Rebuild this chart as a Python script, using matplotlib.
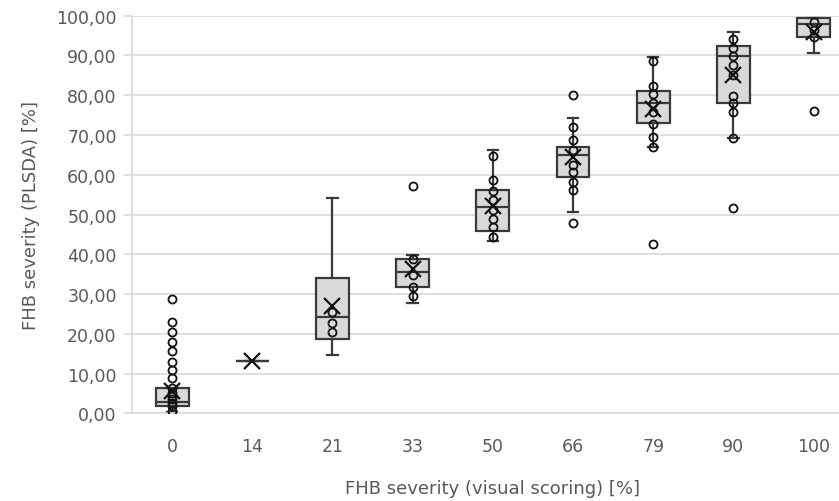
import matplotlib.pyplot as plt

# categories on the x axis (visual scoring, %)
categories = ["0", "14", "21", "33", "50", "66", "79", "90", "100"]

# box statistics (PLSDA severity, %)
q1 = [1.9, 13.2, 18.7, 31.7, 45.8, 59.5, 73.0, 78.0, 94.6]
medians = [2.9, 13.2, 24.3, 35.5, 51.8, 65.0, 78.0, 89.8, 97.9]
q3 = [6.4, 13.2, 34.0, 38.9, 56.2, 67.1, 81.1, 92.5, 99.3]
whis_lo = [0.3, 13.2, 14.7, 27.7, 43.3, 50.6, 67.1, 69.3, 90.5]
whis_hi = [6.4, 13.2, 54.1, 39.9, 66.3, 74.3, 89.5, 95.8, 99.4]
means = [5.7, 13.2, 27.1, 36.3, 52.2, 64.4, 76.5, 85.1, 95.8]

# individual points (inner points and outliers)
points = [
    [28.7, 22.9, 20.5, 17.9, 15.7, 13.0, 11.0, 8.8, 6.4, 5.0, 4.4, 3.5, 2.5, 1.8, 0.65],
    [],
    [25.6, 22.7, 20.4],
    [57.2, 38.9, 34.7, 31.7, 29.6],
    [64.6, 58.7, 56.0, 53.6, 51.2, 48.9, 46.8, 44.3],
    [80.1, 71.9, 68.7, 66.3, 62.5, 60.6, 58.2, 56.2, 47.9],
    [88.7, 82.4, 80.3, 78.0, 75.7, 72.8, 69.6, 67.1, 42.6],
    [94.1, 92.0, 89.8, 87.7, 85.1, 79.9, 78.0, 75.9, 69.3, 51.6],
    [98.5, 96.5, 94.6, 76.1],
]

grid_col = "#d9d9d9"
text_col = "#595959"
edge_col = "#3a3a3a"

fig = plt.figure(figsize=(8.39, 5.02), dpi=100)
ax = fig.add_axes([0.1573, 0.1747, 0.8602, 0.792])

stats = []
for i in range(len(categories)):
    stats.append({
        "q1": q1[i], "med": medians[i], "q3": q3[i],
        "whislo": whis_lo[i], "whishi": whis_hi[i],
        "mean": means[i], "fliers": [],
    })

pos = list(range(len(categories)))
ax.bxp(stats, positions=pos, widths=0.41, patch_artist=True,
       showmeans=True, showfliers=False,
       boxprops=dict(facecolor="#d9d9d9", edgecolor=edge_col, linewidth=1.6),
       medianprops=dict(color=edge_col, linewidth=1.6),
       whiskerprops=dict(color=edge_col, linewidth=1.6),
       capprops=dict(color=edge_col, linewidth=1.6),
       capwidths=0.13,
       meanprops=dict(marker="x", markeredgecolor="#111111", markersize=11,
                      markeredgewidth=1.6))

for i, pts in enumerate(points):
    ax.plot([pos[i]] * len(pts), pts, linestyle="none", marker="o",
            markersize=5.8, markerfacecolor="none", markeredgecolor="#111111",
            markeredgewidth=1.3, zorder=4)

ax.set_xlim(-0.5, len(categories) - 0.5)
ax.set_ylim(0, 100)
ax.set_yticks(range(0, 101, 10))
ax.set_yticklabels([f"{v:.2f}".replace(".", ",") for v in range(0, 101, 10)])
ax.set_xticks(pos)
ax.set_xticklabels(categories)

ax.yaxis.grid(True, color=grid_col, linewidth=1.2)
ax.set_axisbelow(True)
for s in ["top", "right"]:
    ax.spines[s].set_visible(False)
ax.spines["left"].set_color(grid_col)
ax.spines["bottom"].set_color(grid_col)
ax.spines["left"].set_linewidth(1.2)
ax.spines["bottom"].set_linewidth(1.2)

ax.tick_params(axis="y", length=6, width=1.2, color=grid_col, pad=5,
               labelsize=12.5, labelcolor=text_col)
ax.tick_params(axis="x", length=0, pad=17, labelsize=12.5, labelcolor=text_col)

ax.set_xlabel("FHB severity (visual scoring) [%]", fontsize=13, color=text_col,
              labelpad=17)
ax.set_ylabel("FHB severity (PLSDA) [%]", fontsize=13, color=text_col,
              labelpad=12)

fig.savefig("out.png", dpi=100)
